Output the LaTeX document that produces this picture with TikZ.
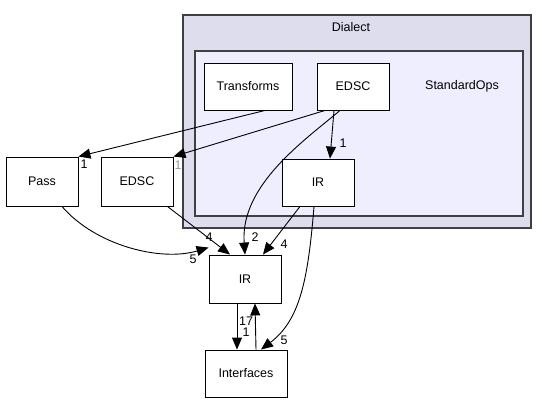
\documentclass[tikz,border=0pt]{standalone}
\usepackage{fontspec}
\setmainfont{Liberation Sans}
\usetikzlibrary{arrows.meta}
\begin{document}
\begin{tikzpicture}[x=1pt,y=-1pt,
  box/.style={draw=black,fill=white,line width=0.9pt,inner sep=0pt,font=\fontsize{12.5}{14}\selectfont},
  cluster/.style={draw=black!75,line width=1.3pt},
  dep/.style={draw=black,line width=0.9pt,-{Triangle[length=12pt,width=10pt]}},
  lab/.style={font=\fontsize{12.5}{14}\selectfont,inner sep=0pt}]
\useasboundingbox (0,0) rectangle (549,404);
% clusters
\path[cluster,fill={rgb,255:red,221;green,221;blue,238}] (183,15) rectangle (531,228);
\node[lab] (dialectlbl) at (351,27) {Dialect};
\path[cluster,fill={rgb,255:red,238;green,238;blue,255}] (195,51) rectangle (523,216);
\node[lab] (stdlbl) at (462,86) {StandardOps};
% nodes
\node[box,minimum width=88pt,minimum height=47pt] (transforms) at (248,86.5) {Transforms};
\node[box,minimum width=72pt,minimum height=47pt] (edscin) at (353,86.5) {EDSC};
\node[box,minimum width=72pt,minimum height=47pt] (irin) at (318,182.5) {IR};
\node[box,minimum width=72pt,minimum height=49pt] (pass) at (42,181.5) {Pass};
\node[box,minimum width=72pt,minimum height=49pt] (edsc) at (137,181.5) {EDSC};
\node[box,minimum width=72pt,minimum height=48pt] (ir) at (245,279) {IR};
\node[box,minimum width=82pt,minimum height=47pt] (interfaces) at (246,373.5) {Interfaces};
% edges
\draw[dep] ([xshift=17pt]transforms.south) -- (pass.north east);
\node[lab] (l1) at (84,164) {1};
\draw[dep] ([xshift=-28pt]edscin.south) -- (edsc.north east);
\node[lab,text=black!40] (l2) at (178,165) {1};
\draw[dep] ([xshift=-19pt]edscin.south) -- ([xshift=12pt]irin.north);
\node[lab] (l3) at (343,143) {1};
\draw[dep] ([xshift=-13pt]edscin.south) .. controls (305,140) and (240,185) .. (ir.north);
\node[lab] (l4) at (255,237) {2};
\draw[dep] ([xshift=-18pt]irin.south) -- ([xshift=18pt]ir.north);
\node[lab] (l5) at (284,244) {4};
\draw[dep] ([xshift=-4pt]irin.south) .. controls (308,280) and (300,320) .. ([xshift=15pt]interfaces.north);
\node[lab] (l6) at (284,340) {5};
\draw[dep] ([xshift=-6pt]edsc.south east) -- ([xshift=-15pt]ir.north);
\node[lab] (l7) at (209,237) {4};
\draw[dep] ([xshift=20pt]pass.south) .. controls (95,245) and (160,262) .. ([yshift=7pt]ir.north west);
\node[lab] (l8) at (193,259) {5};
\draw[dep] ([xshift=-8pt]ir.south) -- ([xshift=-9pt]interfaces.north);
\node[lab] (l9) at (246,321) {17};
\node[lab] (l10) at (246,332) {1};
\draw[dep] ([xshift=10pt]interfaces.north) -- ([xshift=10pt]ir.south);
\end{tikzpicture}
\end{document}
